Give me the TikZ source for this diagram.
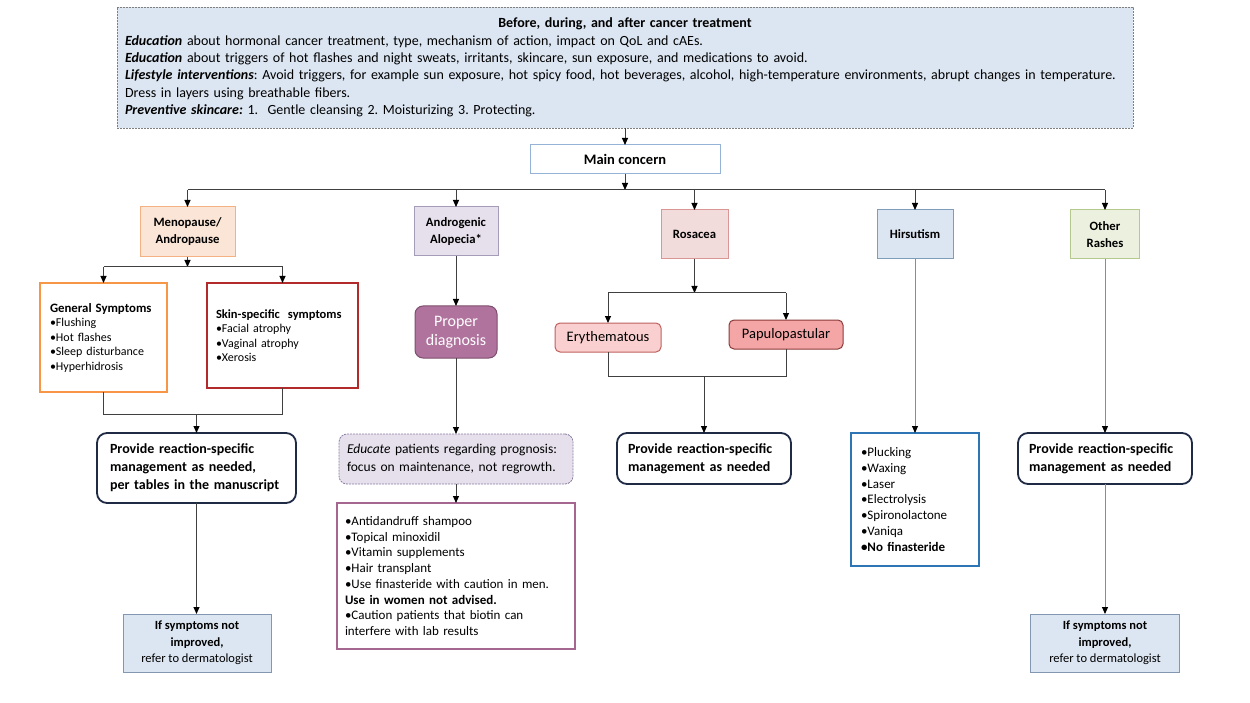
\documentclass[tikz,border=0pt]{standalone}
\usepackage{fontspec}
\setmainfont{Carlito}
\frenchspacing
\usetikzlibrary{arrows.meta}
\definecolor{topfill}{HTML}{DCE6F2}
\definecolor{topline}{HTML}{7F7F7F}
\definecolor{mainline}{HTML}{95B3D7}
\definecolor{menofill}{HTML}{FBE5D6}
\definecolor{menoline}{HTML}{F4B183}
\definecolor{alofill}{HTML}{E6E0EC}
\definecolor{aloline}{HTML}{A59CB8}
\definecolor{rosfill}{HTML}{F2DCDB}
\definecolor{rosline}{HTML}{D99694}
\definecolor{hirfill}{HTML}{DCE6F2}
\definecolor{hirline}{HTML}{7F9DB9}
\definecolor{othfill}{HTML}{EBF1DE}
\definecolor{othline}{HTML}{B5C98E}
\definecolor{genline}{HTML}{F79646}
\definecolor{skinline}{HTML}{B22A2A}
\definecolor{provline}{HTML}{1F2A44}
\definecolor{refline}{HTML}{8497B0}
\definecolor{diagfill}{HTML}{B0739D}
\definecolor{diagline}{HTML}{7D4F6F}
\definecolor{eduline}{HTML}{8A7CA0}
\definecolor{alistline}{HTML}{A5668F}
\definecolor{eryfill}{HTML}{F9D0CF}
\definecolor{eryline}{HTML}{C0605D}
\definecolor{papfill}{HTML}{F4A5A5}
\definecolor{papline}{HTML}{8C3A3A}
\definecolor{hlistline}{HTML}{2E75B6}
\definecolor{conn}{HTML}{404040}
\definecolor{connlight}{HTML}{8C8C8C}
\tikzset{
  x=1pt, y=-1pt,
  box/.style={draw, rectangle, inner ysep=0pt, outer sep=0pt, anchor=center},
  catbox/.style={box, line width=1pt, align=center, font=\fontsize{12.7}{17}\selectfont\bfseries},
  listbox/.style={box, fill=white, line width=2.5pt, align=left},
  provbox/.style={box, draw=provline, fill=white, line width=1.8pt, rounded corners=10pt, align=left, font=\fontsize{14}{18}\selectfont\bfseries},
  refbox/.style={box, draw=refline, fill=topfill, line width=1pt, align=center, font=\fontsize{12.5}{16.5}\selectfont},
  subbox/.style={box, line width=1pt, rounded corners=5pt, align=center, font=\fontsize{14.5}{17}\selectfont},
  line/.style={draw=conn, line width=1pt},
  arr/.style={line, -{Triangle[length=7pt,width=6pt,color=black]}},
  lightline/.style={draw=connlight},
}
\begin{document}
\begin{tikzpicture}
\useasboundingbox (0,0) rectangle (1250,703);
% top box
\node[box, draw=topline, fill=topfill, line width=0.8pt, dash pattern=on 2pt off 1pt,
  minimum width=1016, minimum height=121, text width=1000, inner xsep=8, align=left,
  font=\fontsize{14}{17.4}\selectfont] (top) at (625,67.5)
{\makebox[\linewidth]{\bfseries Before, during, and after cancer treatment}\\
\textbf{\textit{Education}} about hormonal cancer treatment, type, mechanism of action, impact on QoL and cAEs.\\
\textbf{\textit{Education}} about triggers of hot flashes and night sweats, irritants, skincare, sun exposure, and medications to avoid.\\
\textbf{\textit{Lifestyle interventions}}: Avoid triggers, for example sun exposure, hot spicy food, hot beverages, alcohol, high-temperature environments, abrupt changes in temperature.\\
Dress in layers using breathable fibers.\\
\textbf{\textit{Preventive skincare:}} 1.\ \ Gentle cleansing 2. Moisturizing 3. Protecting.};
% main concern
\node[box, draw=mainline, fill=white, line width=1pt, minimum width=190, minimum height=29,
  font=\fontsize{14.5}{16}\selectfont\bfseries] (main) at (625,159.5) {Main concern};
% categories
\node[catbox, draw=menoline, fill=menofill, minimum width=95, minimum height=50] (meno) at (187.5,232) {Menopause/\\Andropause};
\node[catbox, draw=aloline, fill=alofill, minimum width=84, minimum height=49] (alo) at (456,231.5) {Androgenic\\Alopecia*};
\node[catbox, draw=rosline, fill=rosfill, minimum width=67, minimum height=49] (ros) at (694.5,234.5) {Rosacea};
\node[catbox, draw=hirline, fill=hirfill, minimum width=76, minimum height=49] (hir) at (915,234.5) {Hirsutism};
\node[catbox, draw=othline, fill=othfill, minimum width=69, minimum height=49] (oth) at (1105,234.5) {Other\\Rashes};
% menopause branch
\node[listbox, draw=genline, minimum width=127, minimum height=109, text width=107, inner xsep=10,
  font=\fontsize{12}{14.5}\selectfont] (gen) at (103.5,337.5)
{{\fontsize{12.8}{14.5}\selectfont\bfseries General Symptoms}\\•Flushing\\•Hot flashes\\•Sleep disturbance\\•Hyperhidrosis};
\node[listbox, draw=skinline, minimum width=151, minimum height=105, text width=133, inner xsep=9,
  font=\fontsize{12}{14.5}\selectfont] (skin) at (282.5,335.5)
{{\fontsize{12.5}{14.5}\selectfont\bfseries Skin-specific\ \ symptoms}\\•Facial atrophy\\•Vaginal atrophy\\•Xerosis};
\node[provbox, minimum width=199, minimum height=70, text width=173, inner xsep=13] (prov1) at (196.5,468)
{Provide reaction-specific\\management as needed,\\per tables in the manuscript};
\node[refbox, minimum width=148, minimum height=58] (ref1) at (197,643)
{\textbf{If symptoms not}\\\textbf{improved,}\\refer to dermatologist};
% alopecia branch
\node[box, draw=diagline, fill=diagfill, line width=1pt, rounded corners=8pt, minimum width=82, minimum height=52,
  align=center, text=white, font=\fontsize{16}{19}\selectfont] (diag) at (456,332) {Proper\\diagnosis};
\node[box, draw=eduline, fill=alofill, line width=0.8pt, dash pattern=on 2pt off 1pt, rounded corners=8pt,
  minimum width=234, minimum height=50, text width=218, inner xsep=8, align=left,
  font=\fontsize{13.5}{18}\selectfont] (edu) at (456,459)
{\textit{Educate} patients regarding prognosis:\\focus on maintenance, not regrowth.};
\node[listbox, draw=alistline, minimum width=238, minimum height=146, text width=222, inner xsep=8,
  font=\fontsize{13}{15.7}\selectfont] (alist) at (456,576)
{•Antidandruff shampoo\\•Topical minoxidil\\•Vitamin supplements\\•Hair transplant\\•Use finasteride with caution in men.\\\textbf{Use in women not advised.}\\•Caution patients that biotin can\\interfere with lab results};
% rosacea branch
\node[subbox, draw=eryline, fill=eryfill, minimum width=106, minimum height=29] (ery) at (608,337.5) {Erythematous};
\node[subbox, draw=papline, fill=papfill, minimum width=114, minimum height=29] (pap) at (786,334.5) {Papulopastular};
\node[provbox, minimum width=174, minimum height=51, text width=152, inner xsep=11] (prov2) at (704,458.5)
{Provide reaction-specific\\management as needed};
% hirsutism branch
\node[listbox, draw=hlistline, minimum width=128, minimum height=133, text width=108, inner xsep=10,
  font=\fontsize{13}{15.7}\selectfont] (hlist) at (915,499.5)
{•Plucking\\•Waxing\\•Laser\\•Electrolysis\\•Spironolactone\\•Vaniqa\\\textbf{•No finasteride}};
% other rashes branch
\node[provbox, minimum width=174, minimum height=51, text width=152, inner xsep=11] (prov3) at (1105,458.5)
{Provide reaction-specific\\management as needed};
\node[refbox, minimum width=149, minimum height=58] (ref3) at (1105,643)
{\textbf{If symptoms not}\\\textbf{improved,}\\refer to dermatologist};
% connectors
\coordinate (bar1) at (625,190);
\draw[arr] (top.south) -- (main.north);
\draw[arr] (main.south) -- (bar1);
\draw[line] (meno.north |- bar1) -- (oth.north |- bar1);
\foreach \n in {meno,alo,ros,hir,oth} \draw[arr] (\n.north |- bar1) -- (\n.north);
\coordinate (bar2) at (187.5,267);
\draw[arr] (meno.south) -- (bar2);
\draw[line] (gen.north |- bar2) -- (skin.north |- bar2);
\draw[arr] (gen.north |- bar2) -- (gen.north);
\draw[arr] (skin.north |- bar2) -- (skin.north);
\coordinate (bar3) at (196.5,414);
\draw[line] (gen.south) |- (skin.south |- bar3) -- (skin.south);
\draw[arr] (prov1.north |- bar3) -- (prov1.north);
\draw[arr] (prov1.south) -- (prov1.south |- ref1.north);
\draw[arr] (alo.south) -- (diag.north);
\draw[arr] (diag.south) -- (edu.north);
\draw[arr] (edu.south) -- (alist.north);
\coordinate (bar4) at (694.5,293);
\draw[arr] (ros.south) -- (bar4);
\draw[line] (ery.north |- bar4) -- (pap.north |- bar4);
\draw[arr] (ery.north |- bar4) -- (ery.north);
\draw[arr] (pap.north |- bar4) -- (pap.north);
\coordinate (bar5) at (704,376);
\draw[line] (ery.south) |- (pap.south |- bar5) -- (pap.south);
\draw[arr] (prov2.north |- bar5) -- (prov2.north);
\draw[arr, lightline] (hir.south) -- (hlist.north);
\draw[arr, lightline] (oth.south) -- (prov3.north);
\draw[arr, lightline] (prov3.south) -- (ref3.north);
\end{tikzpicture}
\end{document}
